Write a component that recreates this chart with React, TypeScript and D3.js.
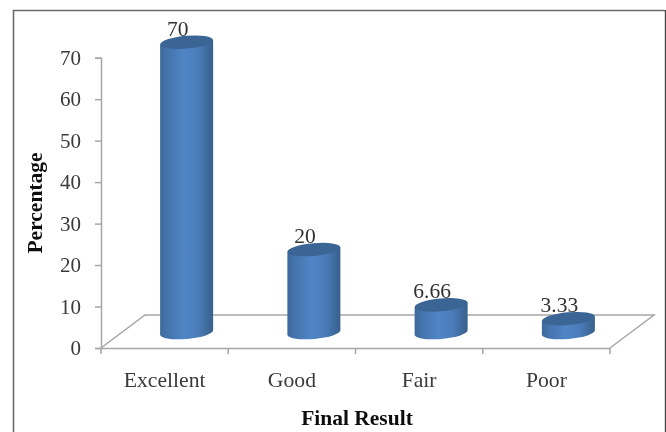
import React, { useEffect, useRef } from "react";
import * as d3 from "d3";

const categories = ["Excellent", "Good", "Fair", "Poor"];
const values = [70, 20, 6.66, 3.33];
const valueLabels = ["70", "20", "6.66", "3.33"];
const yTicks = [0, 10, 20, 30, 40, 50, 60, 70];
const xTitle = "Final Result";
const yTitle = "Percentage";

const W = 666, H = 432;
const serif = "'Liberation Serif', 'Times New Roman', serif";

export default function App() {
  const ref = useRef<SVGSVGElement>(null);
  useEffect(() => {
    const svg = d3.select(ref.current!);
    svg.selectAll("*").remove();

    const x = d3.scaleBand<string>().domain(categories).range([101, 610]);
    const y = d3.scaleLinear().domain([0, 70]).range([348, 57.7]);
    const depthX = 44, depthY = 33;
    const barDx = 22, barDy = 15.5;
    const rx = 26.5, ry = 6.4, tilt = -5;
    const lift = rx * Math.sin((-tilt * Math.PI) / 180);

    const defs = svg.append("defs");
    const grad = defs.append("linearGradient").attr("id", "cyl").attr("x1", "0").attr("x2", "1").attr("y1", "0").attr("y2", "0");
    [[0, "#3d6a9c"], [0.15, "#4574ad"], [0.45, "#5085c6"], [0.72, "#4a7cb8"], [0.92, "#3d6897"], [1, "#38608d"]].forEach(([o, c]) =>
      grad.append("stop").attr("offset", o as number).attr("stop-color", c as string));
    const blur = defs.append("filter").attr("id", "soft").attr("x", "-5%").attr("y", "-5%").attr("width", "110%").attr("height", "110%");
    blur.append("feGaussianBlur").attr("stdDeviation", 0.5);

    const root = svg.append("g").attr("filter", "url(#soft)");

    root.append("rect").attr("width", W).attr("height", H).attr("fill", "#fff");

    // frame
    root.append("path").attr("d", `M13.5,${H} V10.5 H665`).attr("fill", "none").attr("stroke", "#6b6b6b").attr("stroke-width", 1.6);
    root.append("path").attr("d", `M665.5,10 V${H}`).attr("fill", "none").attr("stroke", "#444").attr("stroke-width", 1.4);

    // floor
    const axisColor = "#a6a6a6";
    const [x0, x1] = x.range();
    const base = y(0);
    root.append("path")
      .attr("d", `M${x0},${base} L${x0 + depthX},${base - depthY} H${x1 + depthX} L${x1},${base}`)
      .attr("fill", "none").attr("stroke", axisColor).attr("stroke-width", 1.5);

    // y axis
    const yAxis = root.append("g").attr("transform", `translate(${x0},0)`)
      .call(d3.axisLeft(y).tickValues(yTicks).tickSize(6).tickPadding(14).tickFormat(d3.format("d") as any));
    yAxis.selectAll("path,line").attr("stroke", axisColor).attr("stroke-width", 1.5);
    yAxis.selectAll("text").attr("font-family", serif).attr("font-size", 21).attr("fill", "#3a3a3a");

    // x axis
    const xAxis = root.append("g").attr("transform", `translate(0,${base})`)
      .call(d3.axisBottom(x).tickSize(0).tickPadding(24));
    xAxis.select("path").attr("stroke", axisColor).attr("stroke-width", 1.5);
    xAxis.selectAll("text").attr("font-family", serif).attr("font-size", 21.7).attr("fill", "#3a3a3a");
    const edges = [...categories.map((c) => x(c)!), x1];
    root.append("g").selectAll("line").data(edges).join("line")
      .attr("x1", (d) => d).attr("x2", (d) => d).attr("y1", base).attr("y2", base + 6)
      .attr("stroke", axisColor).attr("stroke-width", 1.5);

    // cylinders
    const bars = root.append("g").selectAll("g").data(categories).join("g");
    bars.each(function (c, i) {
      const g = d3.select(this);
      const cx = x(c)! + x.bandwidth() / 2 + barDx;
      const topY = y(values[i]) - barDy;
      const botY = base - barDy;
      g.append("path")
        .attr("d", `M${cx - rx},${topY + lift} L${cx - rx},${botY + lift} A${rx},${ry} ${tilt} 0 0 ${cx + rx},${botY - lift} L${cx + rx},${topY - lift} Z`)
        .attr("fill", "url(#cyl)");
      g.append("ellipse").attr("cx", 0).attr("cy", 0).attr("rx", rx).attr("ry", ry)
        .attr("transform", `translate(${cx},${topY}) rotate(${tilt})`)
        .attr("fill", "#3a6595");
      g.append("text").attr("x", cx - 9).attr("y", topY - 6.5)
        .attr("text-anchor", "middle").attr("font-family", serif).attr("font-size", 21.5).attr("fill", "#333")
        .text(valueLabels[i]);
    });

    // titles
    root.append("text").attr("x", 357).attr("y", 425).attr("text-anchor", "middle")
      .attr("font-family", serif).attr("font-size", 21.5).attr("font-weight", "bold").attr("fill", "#111").text(xTitle);
    root.append("text").attr("transform", "translate(42,203) rotate(-90)").attr("text-anchor", "middle")
      .attr("font-family", serif).attr("font-size", 21.5).attr("font-weight", "bold").attr("fill", "#111").text(yTitle);
  }, []);
  return <svg ref={ref} width={W} height={H} viewBox={`0 0 ${W} ${H}`} style={{ position: "absolute", left: 0, top: 0, display: "block" }} />;
}
